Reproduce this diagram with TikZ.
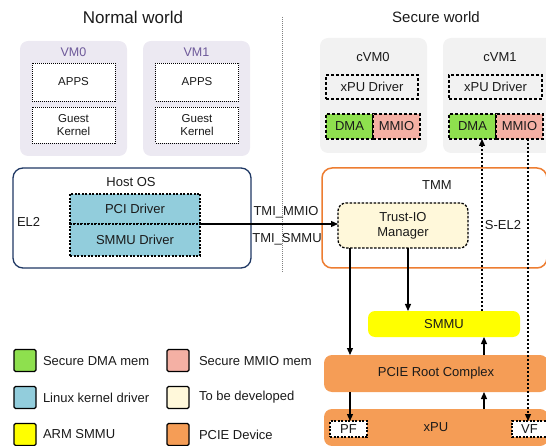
\documentclass[tikz,border=0pt]{standalone}
\usepackage{fontspec}
\setmainfont{Liberation Sans}
\usetikzlibrary{arrows.meta}
\definecolor{vmfill}{HTML}{ECE9F2}
\definecolor{vmtxt}{HTML}{6E5A9A}
\definecolor{cvmfill}{HTML}{F2F2F2}
\definecolor{dmag}{HTML}{8EE04E}
\definecolor{mmiop}{HTML}{F4B0A4}
\definecolor{linb}{HTML}{92CDDC}
\definecolor{tbd}{HTML}{FFF8DA}
\definecolor{smmuy}{HTML}{FFFF00}
\definecolor{pcieo}{HTML}{F59D56}
\definecolor{hostb}{HTML}{1F3864}
\definecolor{tmmo}{HTML}{ED7D31}
\definecolor{txt}{HTML}{1A1A1A}
\tikzset{
  x=1pt,y=-1pt,
  every node/.style={font=\fontsize{13}{15}\selectfont, text=txt, inner sep=0pt, outer sep=0pt},
  vmbox/.style={rectangle, rounded corners=8pt, fill=vmfill, minimum width=107pt, minimum height=115pt},
  cvmbox/.style={rectangle, rounded corners=8pt, fill=cvmfill, minimum height=115pt},
  appbox/.style={rectangle, draw=black, fill=white, line width=0.8pt, dash pattern=on 1pt off 1pt, minimum width=83pt, font=\fontsize{11.5}{13.5}\selectfont, align=center},
  drvbox/.style={rectangle, draw=black, fill=linb, line width=1.2pt, dash pattern=on 2pt off 1.5pt, minimum width=130pt},
  cinner/.style={rectangle, draw=black, line width=1.5pt, dash pattern=on 3pt off 2pt},
  conn/.style={line width=1.2pt, -{Triangle[length=7pt,width=6pt]}},
  dconn/.style={line width=1.2pt, dash pattern=on 2pt off 2pt, -{Triangle[length=7pt,width=6pt]}},
  legsq/.style={rectangle, draw=black, line width=1.3pt, rounded corners=1.5pt, minimum width=22pt, minimum height=22pt},
  legtxt/.style={anchor=west},
  orbox/.style={rectangle, rounded corners=8pt, fill=pcieo, minimum width=224pt, minimum height=37pt},
}
\begin{document}
\begin{tikzpicture}
\useasboundingbox (0,0) rectangle (546,446);
% titles
\node (tn) at (133,17) {\fontsize{17}{19}\selectfont Normal world};
\node (ts) at (436,17) {\fontsize{15}{17}\selectfont Secure world};
\coordinate (sept) at (282,17);
\coordinate (sepb) at (282,272);
\draw[gray, line width=1pt, dash pattern=on 1pt off 1pt] (sept) -- (sepb);

% normal world VMs
\node[vmbox] (vm0) at (73.5,98.5) {};
\node[text=vmtxt, font=\fontsize{12.5}{14}\selectfont] (vm0l) at (73.5,52) {VM0};
\node[appbox, minimum height=38pt] (apps0) at (73.5,82) {APPS};
\node[appbox, minimum height=36pt] (gk0) at (73.5,125) {Guest\\Kernel};
\node[vmbox] (vm1) at (196.5,98.5) {};
\node[text=vmtxt, font=\fontsize{12.5}{14}\selectfont] (vm1l) at (196.5,52) {VM1};
\node[appbox, minimum height=38pt] (apps1) at (197,82) {APPS};
\node[appbox, minimum height=36pt] (gk1) at (197,125) {Guest\\Kernel};

% secure world cVMs
\node[cvmbox, minimum width=107pt] (cvm0) at (373.5,95.5) {};
\node (cvm0l) at (373,57) {cVM0};
\node[cinner, minimum width=92pt, minimum height=24pt] (xd0) at (372,87) {xPU Driver};
\node[cinner, fill=dmag, minimum width=47pt, minimum height=25pt] (dma0) at (349.5,126.5) {DMA};
\node[cinner, fill=mmiop, minimum width=47pt, minimum height=25pt] (mmio0) at (396.5,126.5) {MMIO};
\node[cvmbox, minimum width=115pt] (cvm1) at (500.5,95.5) {};
\node (cvm1l) at (500,57) {cVM1};
\node[cinner, minimum width=93pt, minimum height=24pt] (xd1) at (495.5,87) {xPU Driver};
\node[cinner, fill=dmag, minimum width=47pt, minimum height=25pt] (dma1) at (472.5,126.5) {DMA};
\node[cinner, fill=mmiop, minimum width=47pt, minimum height=25pt] (mmio1) at (519.5,126.5) {MMIO};

% host OS
\node[rectangle, draw=hostb, line width=1.3pt, rounded corners=10pt, minimum width=238pt, minimum height=100pt] (host) at (132,218) {};
\node (hostl) at (131,182) {Host OS};
\node[anchor=west] (el2) at (17,222) {EL2};
\node[drvbox, minimum height=30pt] (pci) at (135,209) {PCI Driver};
\node[drvbox, minimum height=32pt] (smmud) at (135,240) {SMMU Driver};

% TMM
\node[rectangle, draw=tmmo, line width=1.5pt, rounded corners=10pt, minimum width=225pt, minimum height=100pt] (tmm) at (434.5,218) {};
\node (tmml) at (437,185) {TMM};
\node[rectangle, draw=black, fill=tbd, line width=1.3pt, dash pattern=on 2.5pt off 1.5pt, rounded corners=8pt, minimum width=130pt, minimum height=45pt, align=center] (trust) at (403,225.5) {Trust-IO\\Manager};
\node (sel2) at (503,225) {S-EL2};

\node (tmimmio) at (286,212) {TMI\_MMIO};
\node (tmismmu) at (287,239) {TMI\_SMMU};
\draw[conn] (pci.south east) -- (pci.south east -| trust.west);

% SMMU / PCIE / xPU
\node[rectangle, fill=smmuy, rounded corners=7pt, minimum width=152pt, minimum height=26pt] (smmu) at (444,324) {SMMU};
\node[orbox] (pcie) at (436,373.5) {PCIE Root Complex};
\node[orbox] (xpu) at (436,427.5) {xPU};
\node[rectangle, draw=black, fill=white, line width=1.3pt, dash pattern=on 2pt off 1.5pt, minimum width=37pt, minimum height=16pt] (pf) at (348.5,429) {PF};
\node[rectangle, draw=black, fill=white, line width=1.3pt, dash pattern=on 2pt off 1.5pt, minimum width=35pt, minimum height=16pt] (vf) at (529.5,429) {VF};

% connectors
\draw[conn] (trust.south -| 350,0) -- (pcie.north -| 350,0);
\draw[conn] (pcie.south -| 350,0) -- (pf.north -| 350,0);
\draw[conn] (trust.south -| 408,0) -- (smmu.north -| 408,0);
\draw[conn] (xpu.north -| 484,0) -- (pcie.south -| 484,0);
\draw[conn] (pcie.north -| 484,0) -- (smmu.south -| 484,0);
\draw[dconn] (smmu.north -| 482,0) -- (dma1.south -| 482,0);
\draw[dconn] (mmio1.south -| 528,0) -- (vf.north -| 528,0);

% legend
\node[legsq, fill=dmag] (l1) at (25,360.5) {};
\node[legtxt] (l1t) at (43,361) {Secure DMA mem};
\node[legsq, fill=mmiop] (l2) at (178,360.5) {};
\node[legtxt] (l2t) at (199,361) {Secure MMIO mem};
\node[legsq, fill=linb] (l3) at (25,397.5) {};
\node[legtxt] (l3t) at (43,397.5) {Linux kernel driver};
\node[legsq, fill=tbd] (l4) at (178,397.5) {};
\node[legtxt] (l4t) at (199,397.5) {To be developed};
\node[legsq, fill=smmuy] (l5) at (25,434.5) {};
\node[legtxt] (l5t) at (43,434.5) {ARM SMMU};
\node[legsq, fill=pcieo] (l6) at (178,434.5) {};
\node[legtxt] (l6t) at (199,434.5) {PCIE Device};
\end{tikzpicture}
\end{document}
